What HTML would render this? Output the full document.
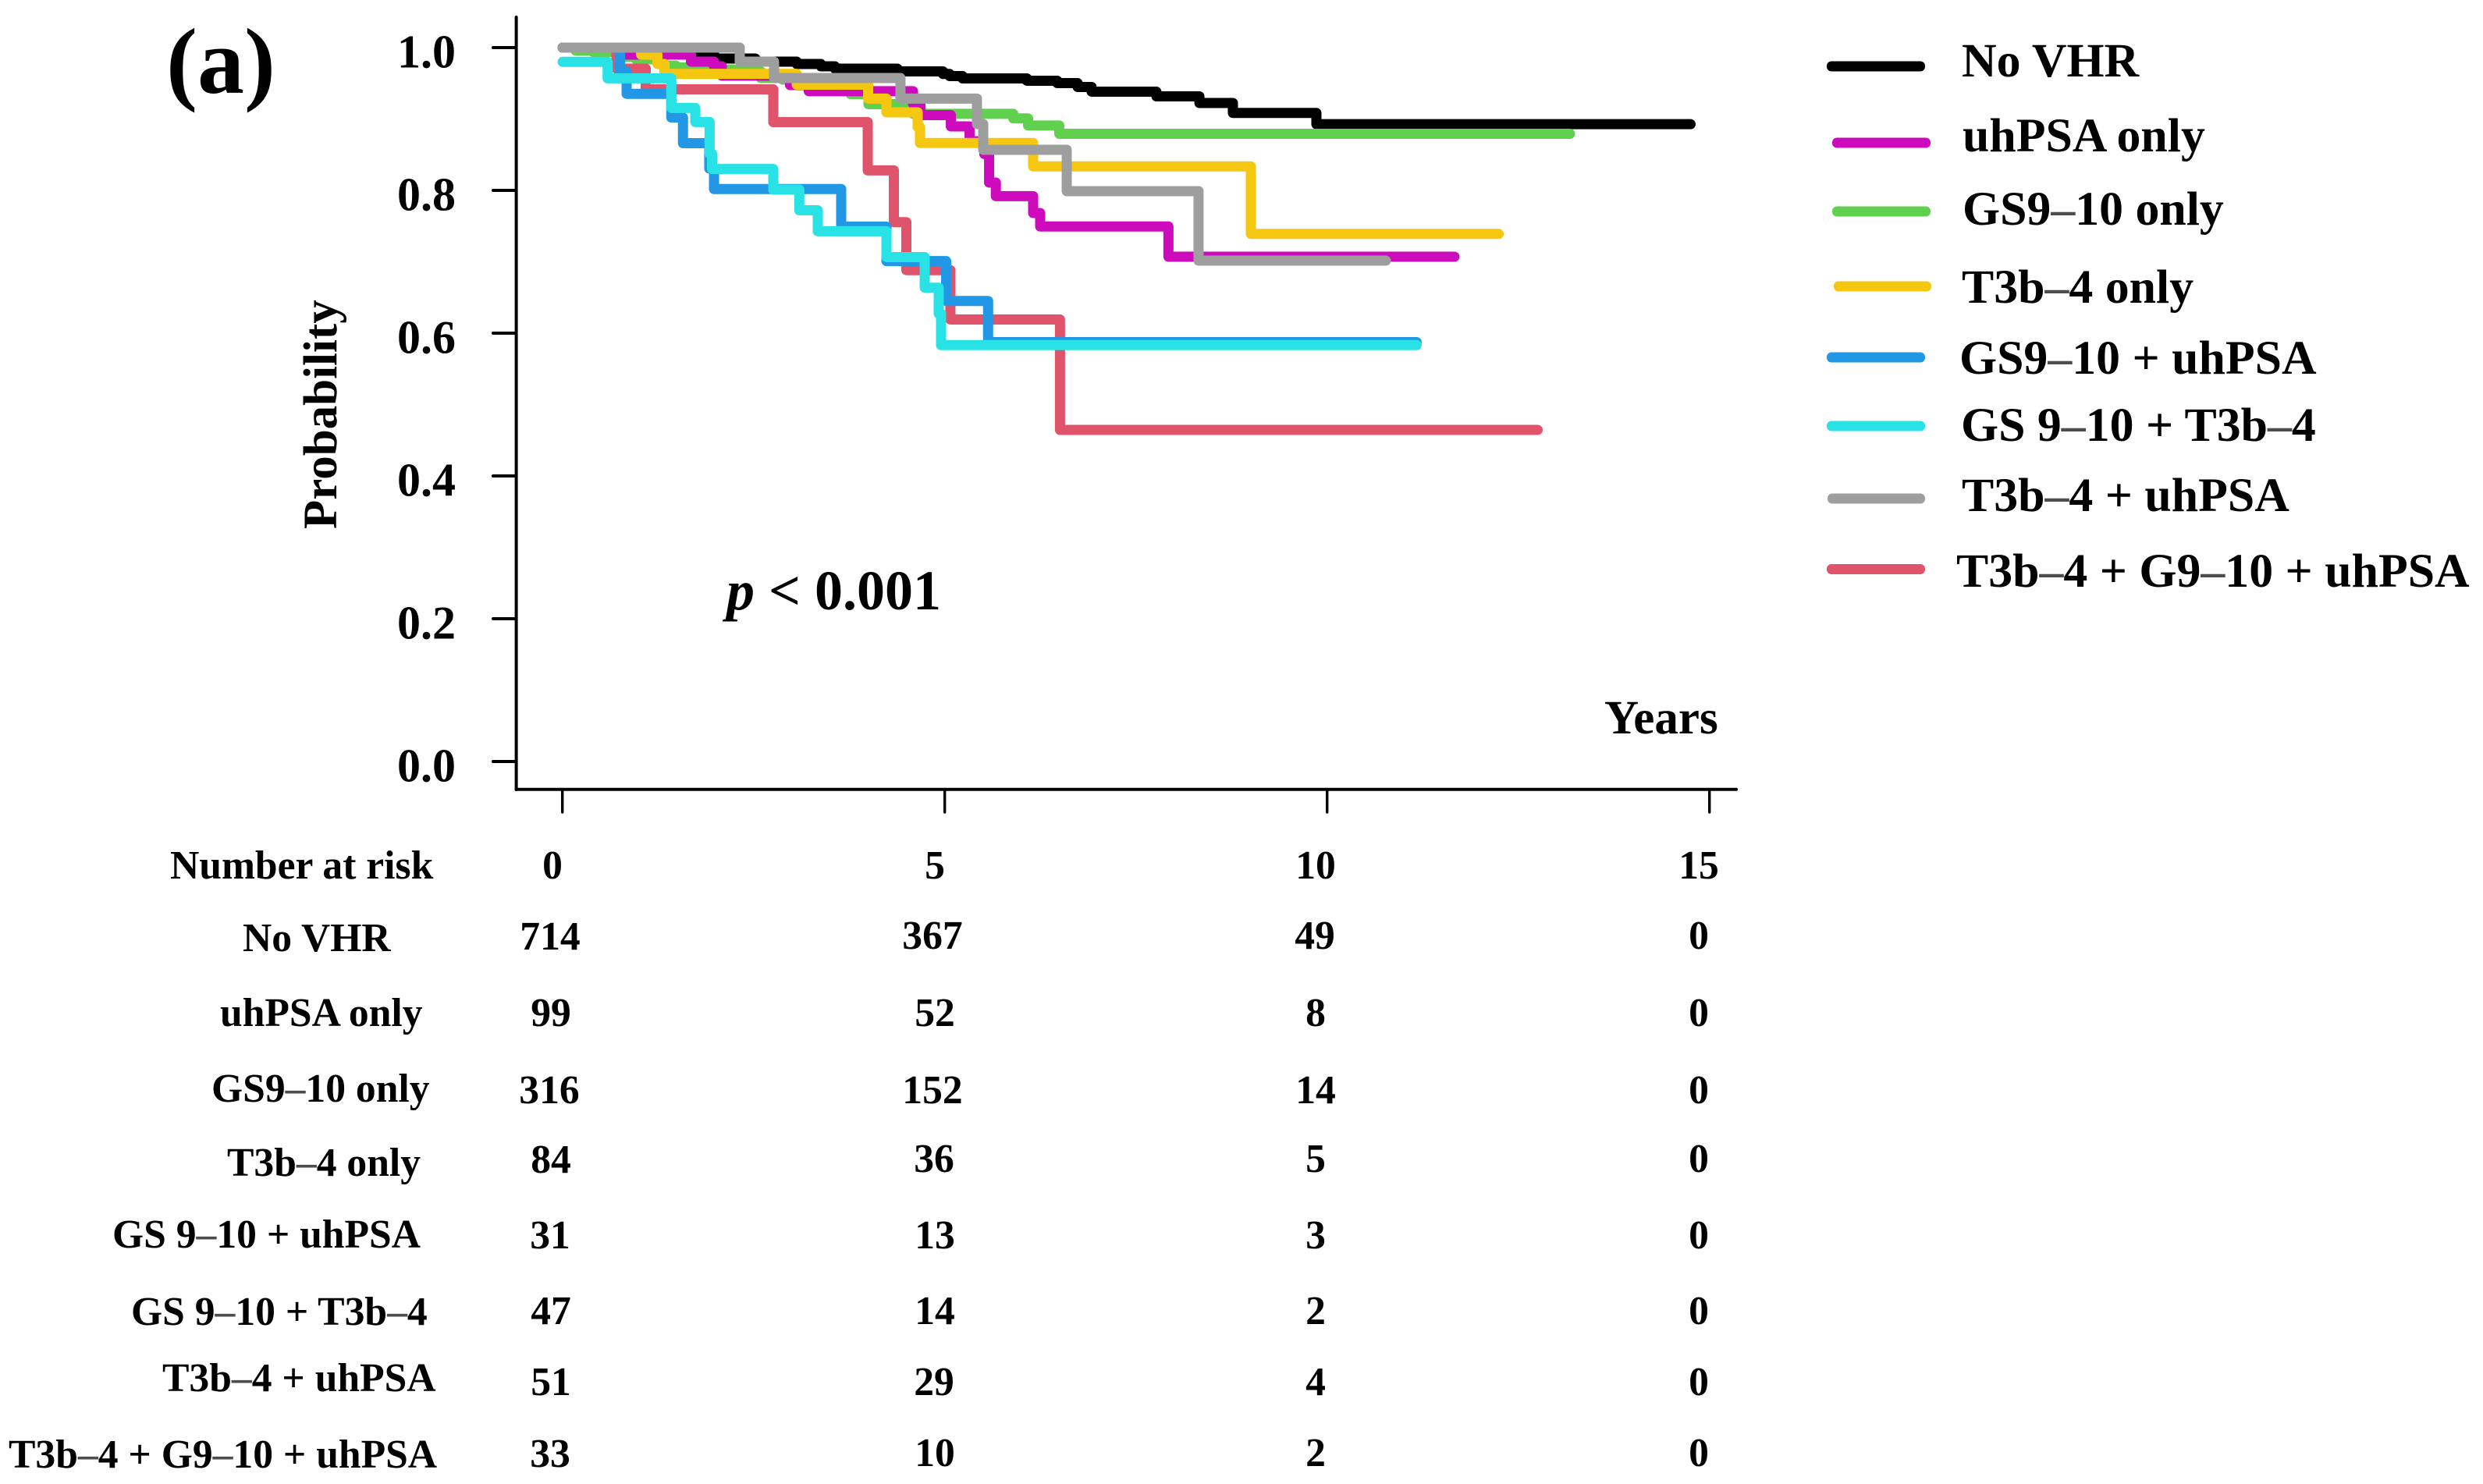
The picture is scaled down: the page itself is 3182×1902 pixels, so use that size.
<!DOCTYPE html>
<html lang="en">
<head>
<meta charset="utf-8">
<title>Kaplan-Meier probability by VHR group</title>
<style>
html,body{margin:0;padding:0;background:#fff;width:3182px;height:1902px;overflow:hidden}
svg{display:block}
text{font-family:"Liberation Serif",serif;font-weight:700;fill:#000}
.dash{fill:#4d4d4d}
.leg{font-size:61.8px}
.tab{font-size:51.6px}
.mid{text-anchor:middle}
</style>
</head>
<body>
<svg id="chart" xmlns="http://www.w3.org/2000/svg" width="3182" height="1902" viewBox="0 0 3182 1902">
  <rect x="0" y="0" width="3182" height="1902" fill="#fff"/>
  <text x="213" y="119" font-size="120">(a)</text>
  <text transform="translate(431 678) rotate(-90)" font-size="61">Probability</text>
  <text x="931" y="781" font-size="72"><tspan font-style="italic">p</tspan> &lt; 0.001</text>
  <text x="2056" y="940" font-size="61">Years</text>

  <g id="axes"></g>
  <g id="curves"></g>

  <g>
    <g><rect x="2341" y="78.5" width="126" height="13" rx="6" fill="#000000"/><text class="leg" x="2514" y="98">No VHR</text></g>
    <g><rect x="2348" y="176.5" width="126" height="13" rx="6" fill="#CD0BBC"/><text class="leg" x="2515" y="194">uhPSA only</text></g>
    <g><rect x="2348" y="264.5" width="126" height="13" rx="6" fill="#61D04F"/><text class="leg" x="2515" y="288">GS9<tspan class="dash">–</tspan>10 only</text></g>
    <g><rect x="2350" y="360.5" width="125" height="13" rx="6" fill="#F5C710"/><text class="leg" x="2514" y="388">T3b<tspan class="dash">–</tspan>4 only</text></g>
    <g><rect x="2341" y="451.5" width="126" height="13" rx="6" fill="#2297E6"/><text class="leg" x="2511" y="479">GS9<tspan class="dash">–</tspan>10 + uhPSA</text></g>
    <g><rect x="2341" y="539.5" width="126" height="13" rx="6" fill="#28E2E5"/><text class="leg" x="2513" y="565">GS 9<tspan class="dash">–</tspan>10 + T3b<tspan class="dash">–</tspan>4</text></g>
    <g><rect x="2342" y="632.5" width="125" height="13" rx="6" fill="#9E9E9E"/><text class="leg" x="2514" y="655">T3b<tspan class="dash">–</tspan>4 + uhPSA</text></g>
    <g><rect x="2341" y="723" width="126" height="13" rx="6" fill="#DF536B"/><text class="leg" x="2507" y="752">T3b<tspan class="dash">–</tspan>4 + G9<tspan class="dash">–</tspan>10 + uhPSA</text></g>
  </g>

  <g>
    <text class="tab" x="218" y="1126">Number at risk</text>
    <text class="tab mid" x="708" y="1126">0</text>
    <text class="tab mid" x="1198" y="1126">5</text>
    <text class="tab mid" x="1686" y="1126">10</text>
    <text class="tab mid" x="2177" y="1126">15</text>

    <text class="tab" x="311" y="1219">No VHR</text>
    <text class="tab mid" x="705" y="1217">714</text>
    <text class="tab mid" x="1195" y="1216">367</text>
    <text class="tab mid" x="1685" y="1216">49</text>
    <text class="tab mid" x="2177" y="1216">0</text>

    <text class="tab" x="282" y="1315">uhPSA only</text>
    <text class="tab mid" x="706" y="1315">99</text>
    <text class="tab mid" x="1198" y="1315">52</text>
    <text class="tab mid" x="1686" y="1315">8</text>
    <text class="tab mid" x="2177" y="1315">0</text>

    <text class="tab" x="271" y="1412">GS9<tspan class="dash">–</tspan>10 only</text>
    <text class="tab mid" x="704" y="1414">316</text>
    <text class="tab mid" x="1195" y="1414">152</text>
    <text class="tab mid" x="1686" y="1414">14</text>
    <text class="tab mid" x="2177" y="1414">0</text>

    <text class="tab" x="291" y="1507">T3b<tspan class="dash">–</tspan>4 only</text>
    <text class="tab mid" x="706" y="1503">84</text>
    <text class="tab mid" x="1197" y="1502">36</text>
    <text class="tab mid" x="1686" y="1502">5</text>
    <text class="tab mid" x="2177" y="1502">0</text>

    <text class="tab" x="144" y="1599">GS 9<tspan class="dash">–</tspan>10 + uhPSA</text>
    <text class="tab mid" x="705" y="1600">31</text>
    <text class="tab mid" x="1198" y="1600">13</text>
    <text class="tab mid" x="1686" y="1600">3</text>
    <text class="tab mid" x="2177" y="1600">0</text>

    <text class="tab" x="168" y="1698">GS 9<tspan class="dash">–</tspan>10 + T3b<tspan class="dash">–</tspan>4</text>
    <text class="tab mid" x="706" y="1697">47</text>
    <text class="tab mid" x="1198" y="1697">14</text>
    <text class="tab mid" x="1686" y="1697">2</text>
    <text class="tab mid" x="2177" y="1697">0</text>

    <text class="tab" x="208" y="1783">T3b<tspan class="dash">–</tspan>4 + uhPSA</text>
    <text class="tab mid" x="706" y="1788">51</text>
    <text class="tab mid" x="1197" y="1788">29</text>
    <text class="tab mid" x="1686" y="1788">4</text>
    <text class="tab mid" x="2177" y="1788">0</text>

    <text class="tab" x="11" y="1881">T3b<tspan class="dash">–</tspan>4 + G9<tspan class="dash">–</tspan>10 + uhPSA</text>
    <text class="tab mid" x="705" y="1880">33</text>
    <text class="tab mid" x="1198" y="1879">10</text>
    <text class="tab mid" x="1686" y="1879">2</text>
    <text class="tab mid" x="2177" y="1879">0</text>
  </g>
</svg>
<script>
// Tick values
var yTicks = [0, 0.2, 0.4, 0.6, 0.8, 1.0];
var xTicks = [0, 5, 10, 15];

// Each curve: time of each drop (the last time is the end of follow-up), and the level after each drop
var noVhrTimes = [1.214,1.704,1.98,2.52,3.061,3.378,3.561,4.378,4.974,5.061,5.23,6.071,6.469,6.735,6.918,7.765,8.327,8.765,9.857,14.75];
var noVhrSurv  = [0.9978,0.9945,0.9847,0.9803,0.977,0.9738,0.9705,0.9667,0.9631,0.9601,0.9568,0.9536,0.9503,0.9448,0.9383,0.9317,0.9224,0.9085,0.8927];

var gsOnlyTimes = [0.173,0.398,0.806,0.959,1.306,1.48,1.888,2.235,2.592,2.878,3.255,3.765,4.0,4.582,5.893,6.087,6.495,13.173];
var gsOnlySurv  = [0.9956,0.994,0.9869,0.9836,0.9749,0.9721,0.9694,0.9667,0.9574,0.9552,0.9443,0.935,0.9208,0.9073,0.9008,0.8909,0.8792];

var uhpsaOnlyTimes = [0.837,1.679,1.98,2.082,2.974,3.219,4.582,4.679,5.077,5.321,5.515,5.577,5.665,6.153,6.245,7.922,11.663];
var uhpsaOnlySurv  = [0.9902,0.9803,0.9738,0.9607,0.9475,0.939,0.9213,0.9055,0.8896,0.8689,0.8508,0.8109,0.792,0.7683,0.7494,0.7071];

var t3bOnlyTimes = [1.026,1.24,1.332,3.061,3.995,4.235,4.643,4.673,6.153,9.0,12.24];
var t3bOnlySurv  = [0.9902,0.977,0.9632,0.9481,0.9286,0.9093,0.8885,0.8664,0.8336,0.7391];

var tripleTimes = [0.704,1.087,2.755,3.99,4.332,4.495,5.071,6.504,12.75];
var tripleSurv  = [0.9705,0.9415,0.8956,0.828,0.7555,0.6883,0.6191,0.4645];

var gsUhpsaTimes = [0.752,0.837,1.421,1.574,1.918,1.98,3.643,4.235,5.015,5.564,11.168];
var gsUhpsaSurv  = [0.9661,0.9352,0.902,0.8661,0.8306,0.8019,0.7492,0.7009,0.6451,0.5874];

var gsT3bStart = 0.98;
var gsT3bTimes = [0.589,1.421,1.735,1.922,1.954,2.755,3.095,3.337,4.235,4.735,4.918,4.949,11.168];
var gsT3bSurv  = [0.957,0.9155,0.8958,0.8514,0.8299,0.8011,0.7721,0.7428,0.7066,0.6637,0.6273,0.5833];

var t3bUhpsaTimes = [2.316,2.765,4.418,5.418,5.5,6.592,8.316,10.765];
var t3bUhpsaSurv  = [0.9803,0.9574,0.9286,0.8929,0.8568,0.7989,0.7016];

var NS = 'http://www.w3.org/2000/svg';
function xScale(t) { return 721 + 98 * t; }
function yScale(s) { return 976 - 915 * s; }

var axes = document.getElementById('axes');
var curves = document.getElementById('curves');

function axisLine(x1, y1, x2, y2, w) {
  var l = document.createElementNS(NS, 'line');
  l.setAttribute('x1', x1);
  l.setAttribute('y1', y1);
  l.setAttribute('x2', x2);
  l.setAttribute('y2', y2);
  l.setAttribute('stroke', '#000');
  l.setAttribute('stroke-width', w);
  l.setAttribute('stroke-linecap', 'round');
  axes.appendChild(l);
  return l;
}

var yAxisLine = axisLine(661.6, 22, 661.6, 1012, 4);



var xAxisLine = axisLine(661.6, 1011.7, 2225, 1011.7, 4);



yTicks.forEach(function (v) {
  var tick = axisLine(632, yScale(v), 661, yScale(v), 4);
  
  
  var lab = document.createElementNS(NS, 'text');
  
  
  lab.setAttribute('x', 584);
  lab.setAttribute('y', yScale(v) + 25.5);
  lab.setAttribute('text-anchor', 'end');
  lab.setAttribute('font-size', '60');
  lab.textContent = v.toFixed(1);
  axes.appendChild(lab);
});

xTicks.forEach(function (v) {
  var tick = axisLine(xScale(v) - 0.3, 1012, xScale(v) - 0.3, 1041, 3.4);
  
  
});

function drawCurve(name, color, times, surv, startLevel) {
  var level = yScale(startLevel);
  var d = 'M' + xScale(0) + ' ' + level;
  for (var i = 0; i < times.length; i++) {
    d += ' H' + xScale(times[i]);
    if (i < surv.length) {
      d += ' V' + yScale(surv[i]);
    }
  }
  var p = document.createElementNS(NS, 'path');
  
  
  p.setAttribute('d', d);
  p.setAttribute('fill', 'none');
  p.setAttribute('stroke', color);
  p.setAttribute('stroke-width', '13');
  p.setAttribute('stroke-linecap', 'round');
  p.setAttribute('stroke-linejoin', 'round');
  curves.appendChild(p);
}

drawCurve('curve-no-vhr', '#000000', noVhrTimes, noVhrSurv, 1);
drawCurve('curve-gs9-10-only', '#61D04F', gsOnlyTimes, gsOnlySurv, 1);
drawCurve('curve-uhpsa-only', '#CD0BBC', uhpsaOnlyTimes, uhpsaOnlySurv, 1);
drawCurve('curve-t3b-4-only', '#F5C710', t3bOnlyTimes, t3bOnlySurv, 1);
drawCurve('curve-t3b-4-g9-10-uhpsa', '#DF536B', tripleTimes, tripleSurv, 1);
drawCurve('curve-gs9-10-uhpsa', '#2297E6', gsUhpsaTimes, gsUhpsaSurv, 1);
drawCurve('curve-gs9-10-t3b-4', '#28E2E5', gsT3bTimes, gsT3bSurv, gsT3bStart);
drawCurve('curve-t3b-4-uhpsa', '#9E9E9E', t3bUhpsaTimes, t3bUhpsaSurv, 1);
</script>
</body>
</html>
